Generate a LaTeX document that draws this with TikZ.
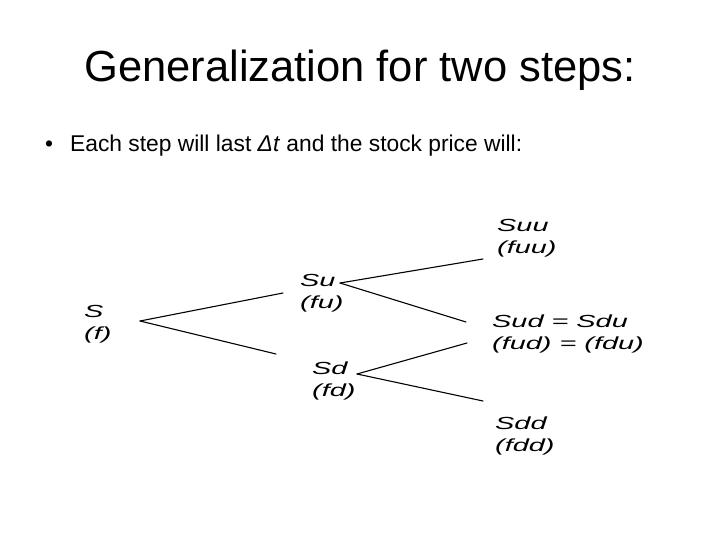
\documentclass[tikz,border=0pt]{standalone}
\usepackage{fontspec}
\setmainfont{Liberation Sans}
\newfontfamily\treefont[FakeStretch=1.65]{Liberation Sans Italic}
\begin{document}
\begin{tikzpicture}[x=1pt,y=-1pt,
  lbl/.style={anchor=base west,inner sep=0pt,font=\treefont\fontsize{17.5}{22}\selectfont,align=left},
  branch/.style={line width=1.1pt,line cap=round}]
\useasboundingbox[fill=white] (0,0) rectangle (720,540);
\node[anchor=base,inner sep=0pt,font=\fontsize{43.5}{48}\selectfont] (title) at (360,82) {Generalization for two steps:};
\node[anchor=base west,inner sep=0pt,font=\fontsize{22.8}{26}\selectfont] (bullet) at (45,152) {\textbullet\hspace{17pt}Each step will last \textit{Δt} and the stock price will:};
% tree labels (anchored at the baseline of their second line)
\node[lbl] (S) at (84,339) {S\\(f)};
\node[lbl] (Su) at (300,308) {Su\\(fu)};
\node[lbl] (Sd) at (312,396) {Sd\\(fd)};
\node[lbl] (Suu) at (497,253) {Suu\\(fuu)};
\node[lbl] (Sud) at (492,349) {Sud = Sdu\\(fud) = (fdu)};
\node[lbl] (Sdd) at (495,451) {Sdd\\(fdd)};
% connector end points
\coordinate (s0) at (140,321);
\coordinate (su0) at (283,293);
\coordinate (sd0) at (276,354);
\coordinate (u0) at (340,283);
\coordinate (uu0) at (483,259);
\coordinate (ud0) at (466,322);
\coordinate (d0) at (357,374);
\coordinate (du0) at (467,343);
\coordinate (dd0) at (483,401);
\draw[branch] (s0) -- (su0);
\draw[branch] (s0) -- (sd0);
\draw[branch] (u0) -- (uu0);
\draw[branch] (u0) -- (ud0);
\draw[branch] (d0) -- (du0);
\draw[branch] (d0) -- (dd0);
\end{tikzpicture}
\end{document}
